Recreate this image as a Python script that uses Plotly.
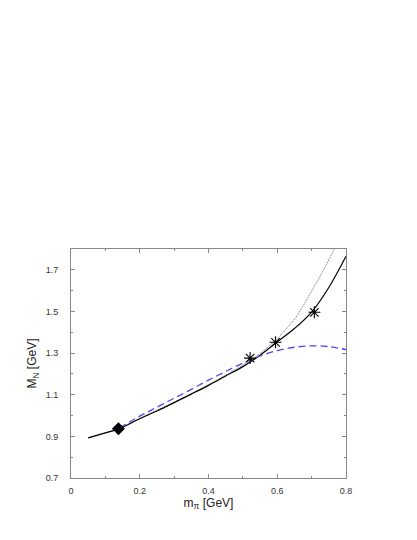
import plotly.graph_objects as go

# solid curve
solid_x = [0.05, 0.10, 0.14, 0.20, 0.25, 0.30, 0.35, 0.40, 0.45, 0.50, 0.52, 0.55, 0.60, 0.65, 0.70, 0.75, 0.80]
solid_y = [0.893, 0.917, 0.937, 0.985, 1.022, 1.062, 1.103, 1.145, 1.190, 1.235, 1.256, 1.290, 1.354, 1.418, 1.497, 1.615, 1.765]

# dotted curve
dot_x = [0.05, 0.10, 0.14, 0.20, 0.30, 0.40, 0.50, 0.52, 0.55, 0.60, 0.625, 0.65, 0.675, 0.70, 0.725, 0.75, 0.766]
dot_y = [0.893, 0.917, 0.937, 0.986, 1.064, 1.149, 1.242, 1.262, 1.298, 1.370, 1.415, 1.462, 1.526, 1.598, 1.670, 1.748, 1.80]

# dashed blue curve
dash_x = [0.14, 0.20, 0.25, 0.30, 0.35, 0.40, 0.45, 0.50, 0.55, 0.60, 0.65, 0.70, 0.75, 0.80]
dash_y = [0.940, 0.997, 1.040, 1.083, 1.126, 1.170, 1.212, 1.252, 1.286, 1.312, 1.328, 1.335, 1.331, 1.317]

# physical point and lattice points
phys_x = [0.138]
phys_y = [0.937]
latt_x = [0.521, 0.595, 0.708]
latt_y = [1.276, 1.352, 1.496]

fig = go.Figure()
fig.add_trace(go.Scatter(x=dot_x, y=dot_y, mode="lines",
                         line=dict(color="#555555", width=0.9, dash="1px,1px", shape="spline")))
fig.add_trace(go.Scatter(x=solid_x, y=solid_y, mode="lines",
                         line=dict(color="black", width=1.2, shape="spline")))
fig.add_trace(go.Scatter(x=dash_x, y=dash_y, mode="lines",
                         line=dict(color="#4a4aee", width=1.3, dash="7px,4px", shape="spline")))
fig.add_trace(go.Scatter(x=phys_x, y=phys_y, mode="markers",
                         marker=dict(symbol="diamond", size=10, color="black")))
fig.add_trace(go.Scatter(x=latt_x, y=latt_y, mode="markers",
                         marker=dict(symbol="asterisk-open", size=10, color="black",
                                     line=dict(color="black", width=1.1))))

axis_common = dict(
    showgrid=False, zeroline=False, automargin=False,
    showline=True, linecolor="#888888", linewidth=1, mirror="allticks",
    ticks="inside", ticklen=4, tickcolor="#888888",
    tickfont=dict(family="Liberation Sans, Arial", size=9, color="#333333"),
    ticklabelstandoff=4,
)

fig.update_layout(
    width=417, height=540,
    paper_bgcolor="white", plot_bgcolor="white",
    showlegend=False,
    margin=dict(l=63, r=79, t=241, b=70),
    font=dict(family="Liberation Sans, Arial", color="#222222"),
    xaxis=dict(
        range=[0, 0.8], dtick=0.2, tick0=0, tickformat="~g",
        minor=dict(dtick=0.1, ticks="inside", ticklen=2, tickcolor="#888888"),
        title=dict(text="m<sub>π</sub> [GeV]", font=dict(size=12), standoff=2),
        **axis_common,
    ),
    yaxis=dict(
        range=[0.7, 1.8], dtick=0.2, tick0=0.7, tickformat=".1f",
        minor=dict(dtick=0.1, ticks="inside", ticklen=2, tickcolor="#888888"),
        title=dict(text="M<sub>N</sub> [GeV]", font=dict(size=12), standoff=6),
        **{**axis_common, "ticklabelstandoff": 10},
    ),
)

fig.write_html("out.html")
